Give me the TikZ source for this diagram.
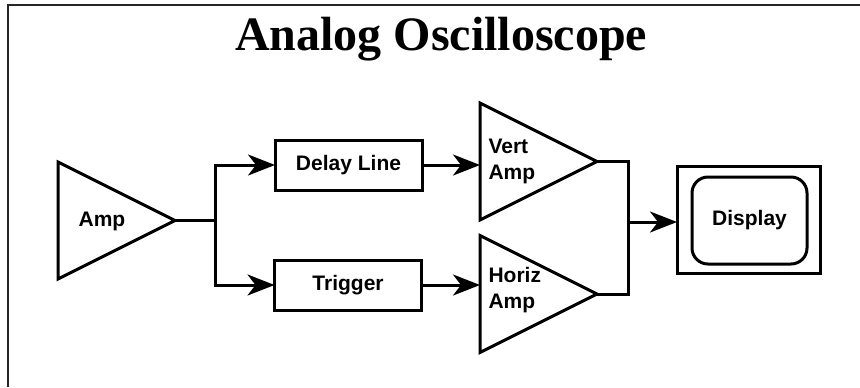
\documentclass[tikz,border=0pt]{standalone}
\usepackage{fontspec}
\setmainfont{Liberation Serif}
\setsansfont{Liberation Sans}
\usetikzlibrary{arrows.meta, positioning, shapes.geometric}

\tikzset{
  amptri/.style={draw, isosceles triangle, isosceles triangle stretches,
    shape border rotate=0, minimum width=58.5pt, minimum height=58.5pt,
    inner sep=0pt, outer sep=0pt, anchor=west},
  blockbox/.style={draw, minimum width=73.5pt, minimum height=25pt,
    inner sep=0pt, outer sep=0pt},
  lbl/.style={font=\sffamily\bfseries\fontsize{10.5}{13}\selectfont, align=left, inner sep=0pt},
  sig/.style={-{Stealth[length=13.5pt, width=10.5pt, inset=4pt]}}
}

\begin{document}
\begin{tikzpicture}[x=0.5pt, y=-0.5pt, line width=1.5pt, line join=miter]
  \useasboundingbox (0,0) rectangle (860,387);

  % frame and title
  \draw[line width=1pt, black!85] (8,387) -- (8,5) -- (860,5);
  \node[anchor=base, font=\bfseries\fontsize{24}{28}\selectfont] (title) at (441,50) {Analog Oscilloscope};

  % amplifiers
  \node[amptri] (amp) at (58,220.5) {};
  \node[amptri] (vert) at (480,161.5) {};
  \node[amptri] (horiz) at (480,294) {};
  \node[lbl] (amplbl) at (102,221) {Amp};
  \node[lbl, anchor=west, right=3.5pt of vert.west] (vertlbl) {Vert\\Amp};
  \node[lbl, anchor=west, right=3.5pt of horiz.west, yshift=2pt] (horizlbl) {Horiz\\Amp};

  % blocks
  \node[blockbox, lbl, align=center] (delay) at (348.5,165) {Delay Line};
  \node[blockbox, lbl, align=center] (trigger) at (348,285) {Trigger};
  \node[draw, minimum width=71.5pt, minimum height=53.5pt, outer sep=0pt] (scope) at (748.5,219.5) {};
  \node[draw, rounded corners=8pt, minimum width=57.5pt, minimum height=43.5pt, outer sep=0pt, lbl, align=center] (screen) at (749.5,220.5) {Display};

  % wires
  \coordinate[right=20pt of amp.apex] (split);
  \coordinate (join) at (628,222);
  \draw (amp.apex) -- (split);
  \draw[sig] (split) |- (delay.west);
  \draw[sig] (split) |- (trigger.west);
  \draw[sig] (delay.east) -- (delay.east -| vert.west);
  \draw[sig] (trigger.east) -- (trigger.east -| horiz.west);
  \draw (vert.apex) -| (join) |- (horiz.apex);
  \draw[sig] (join) -- (join -| scope.west);
\end{tikzpicture}
\end{document}
